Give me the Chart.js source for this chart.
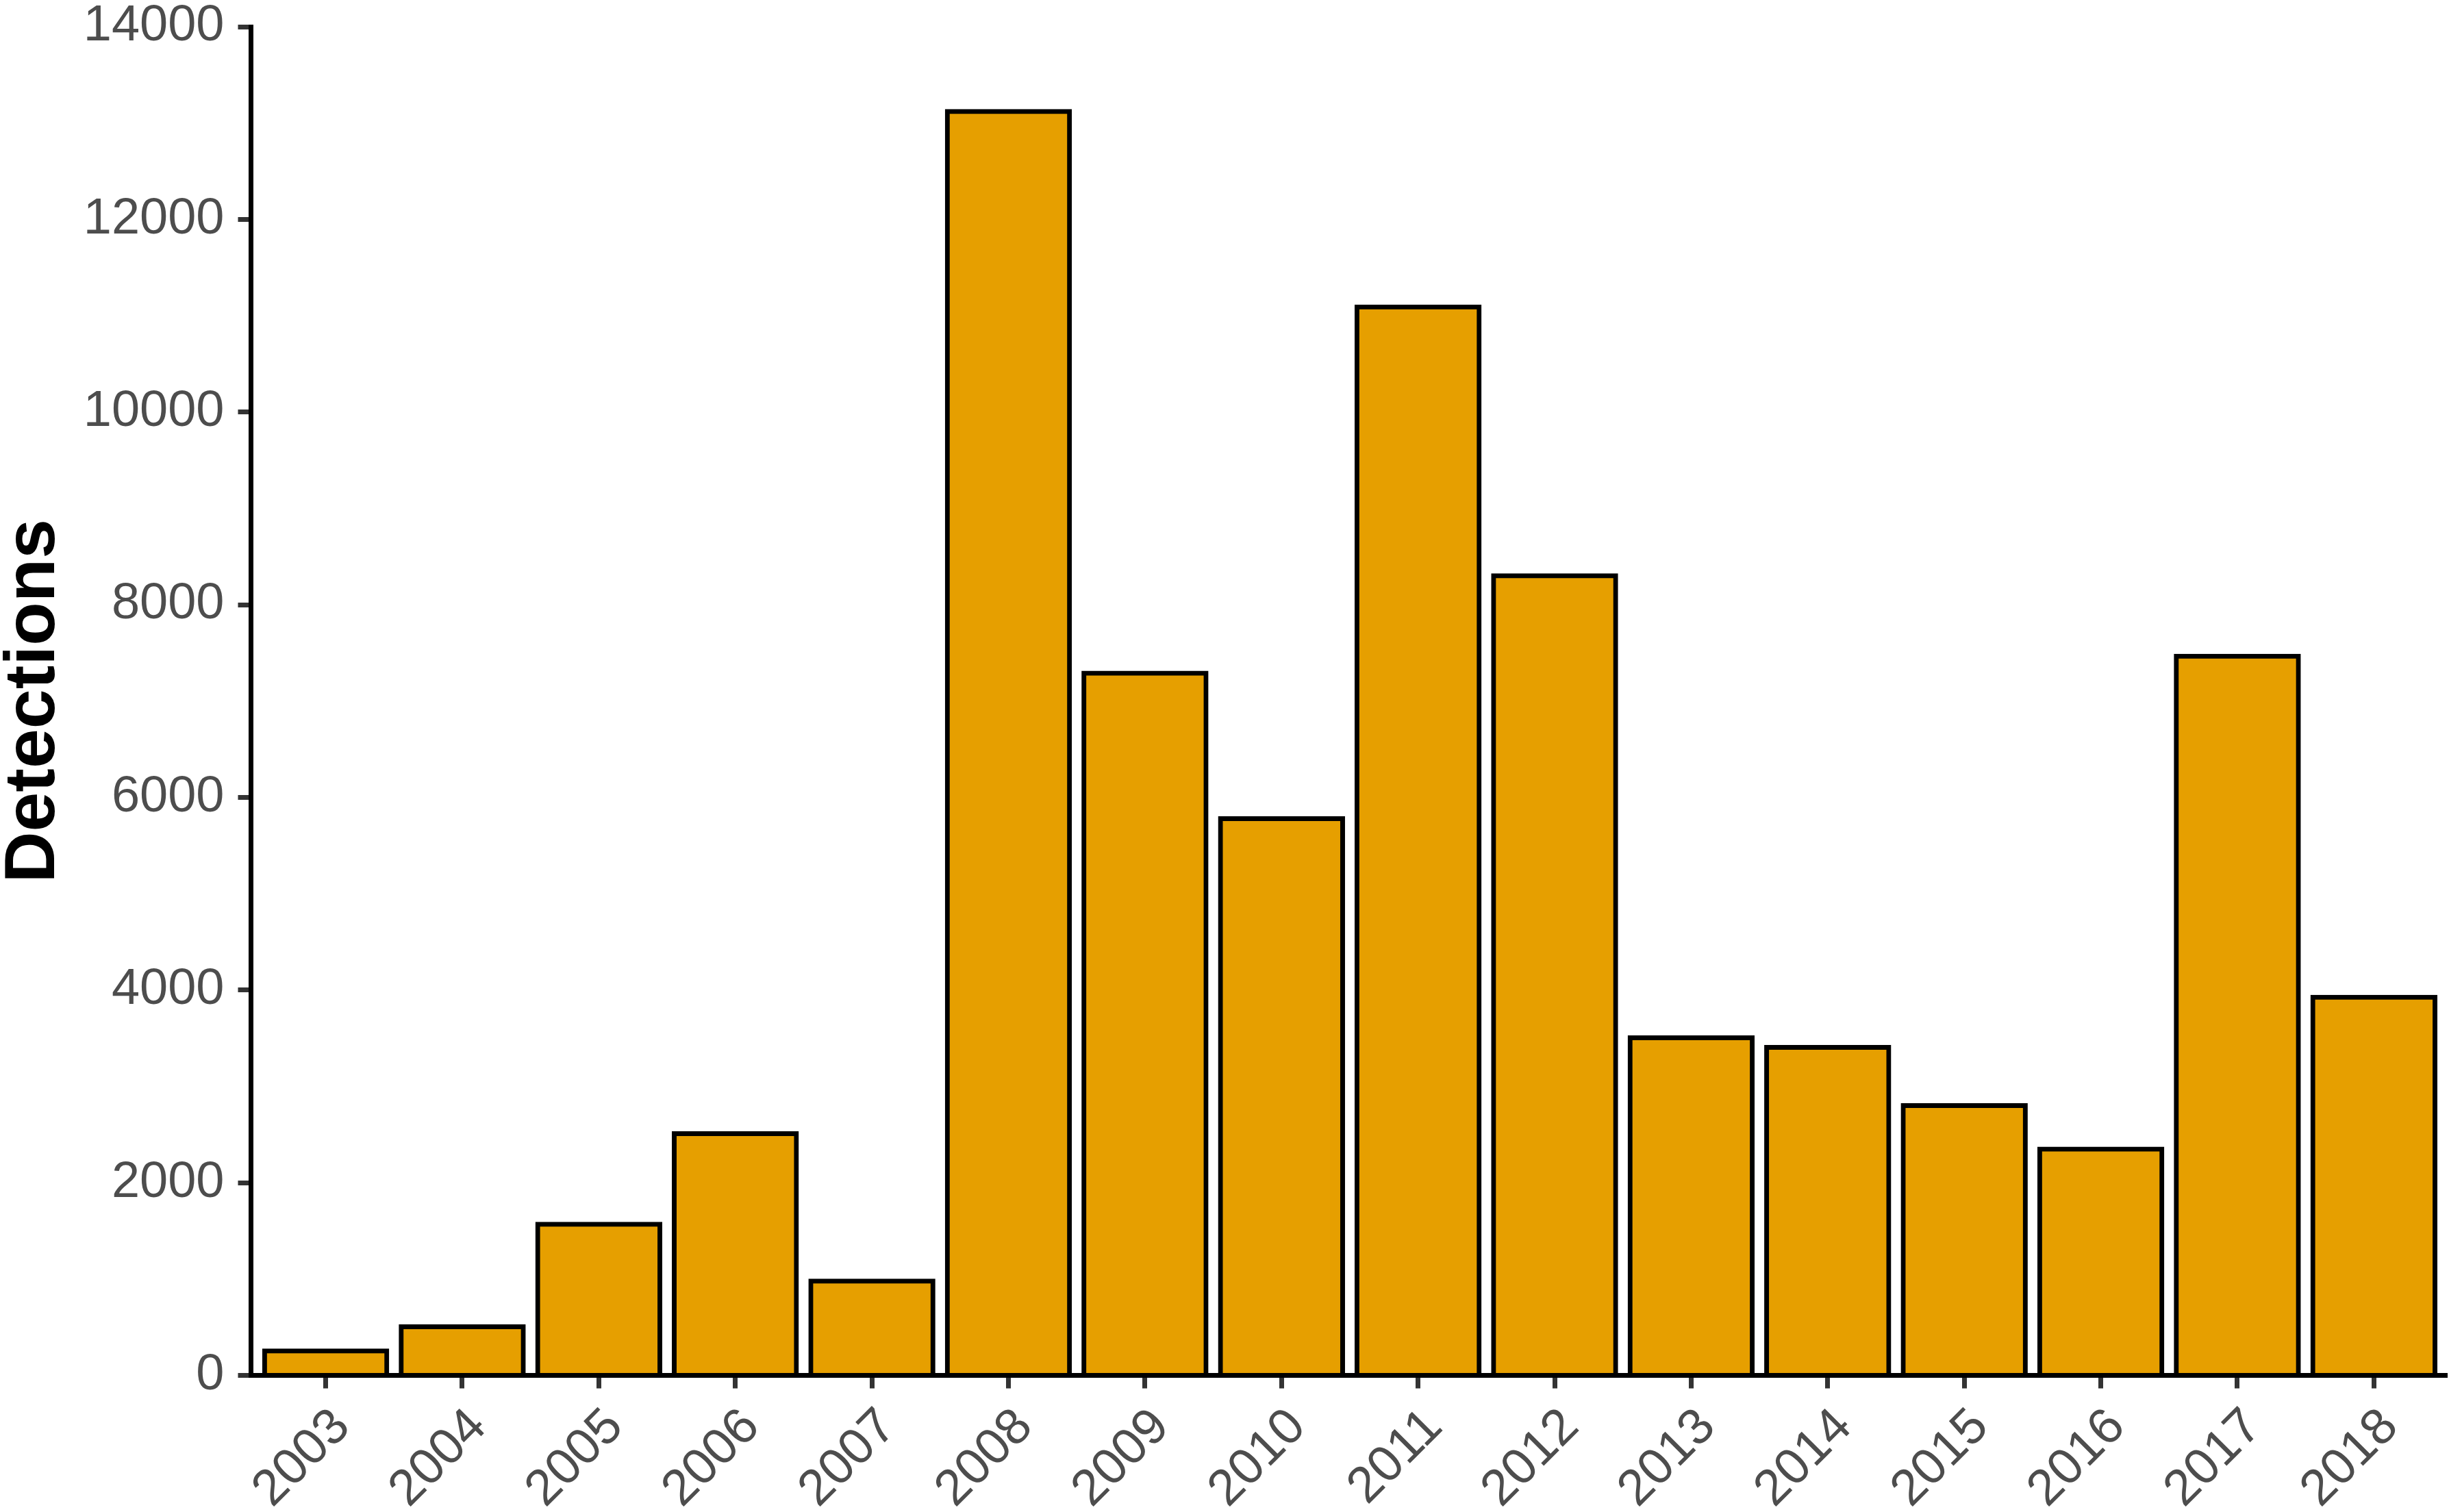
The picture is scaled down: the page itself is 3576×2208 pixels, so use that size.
<!DOCTYPE html>
<html>
<head>
<meta charset="utf-8">
<script src="https://cdn.jsdelivr.net/npm/chart.js@4.4.1/dist/chart.umd.min.js"></script>
<style>
  html, body { margin: 0; padding: 0; background: #fff; }
  #wrap { width: 3576px; height: 2208px; position: relative; }
</style>
</head>
<body>
<div id="wrap"><canvas id="canvas"></canvas></div>
<script>
// detections per year
var years = [2003, 2004, 2005, 2006, 2007, 2008, 2009, 2010, 2011, 2012, 2013, 2014, 2015, 2016, 2017, 2018];
var detections = [255, 505, 1570, 2510, 980, 13120, 7290, 5780, 11090, 8300, 3505, 3405, 2800, 2350, 7465, 3925];
var yTicks = [0, 2000, 4000, 6000, 8000, 10000, 12000, 14000];

var FONT = '"Liberation Sans", Arial, sans-serif';
var TICK_GREY = '#4D4D4D';

var points = years.map(function(y, i) { return { x: y, y: detections[i] }; });

var ctx = document.getElementById("canvas").getContext("2d");

var config = {
	type : 'bar',
	data : {
		datasets : [{
			label : 'Detections',
			data : points,
			backgroundColor : '#E69F00',
			borderColor : '#000000',
			borderWidth : 7,
			borderSkipped : 'start',
			inflateAmount : 3.5, // centre the outline on the bar edge
			barPercentage : 1,
			categoryPercentage : 0.895
		}]
	},
	options : {
		responsive : true,
		maintainAspectRatio : false,
		devicePixelRatio : 1,
		animation : false,
		layout : {
			padding : { top : 39, right : 6, bottom : 0, left : 0 }
		},
		plugins : {
			legend : { display : false },
			tooltip : { enabled : false }
		},
		scales : {
			x : {
				type : 'linear',
				z : 1,
				offset : false,
				min : 2002.453,
				max : 2018.52,
				afterBuildTicks : function(scale) {
					scale.ticks = years.map(function(v) { return { value : v }; });
				},
				afterFit : function(scale) {
					scale.height = 199.5;
					scale.paddingLeft = 0;
					scale.paddingRight = 0;
				},
				grid : {
					offset : false,
					drawOnChartArea : false,
					drawTicks : true,
					tickLength : 19,
					color : '#333333',
					lineWidth : 7
				},
				border : { display : true, color : '#000000', width : 7 },
				ticks : {
					autoSkip : false,
					maxRotation : 45,
					minRotation : 45,
					padding : 13,
					labelOffset : 24,
					color : TICK_GREY,
					font : { family : FONT, size : 74 },
					callback : function(value) { return String(value); }
				}
			},
			y : {
				min : 0,
				max : 14000,
				afterBuildTicks : function(scale) {
					scale.ticks = yTicks.map(function(v) { return { value : v }; });
				},
				afterFit : function(scale) {
					scale.width = 366.5;
					scale.paddingTop = 0;
					scale.paddingBottom = 0;
				},
				grid : {
					drawOnChartArea : false,
					drawTicks : true,
					tickLength : 19,
					color : '#333333',
					lineWidth : 7
				},
				border : { display : true, color : '#000000', width : 7 },
				ticks : {
					padding : 20,
					color : TICK_GREY,
					font : { family : FONT, size : 74, lineHeight : 1 },
					callback : function(value) { return String(value); }
				},
				title : {
					display : true,
					text : 'Detections',
					color : '#000000',
					padding : 0,
					font : { family : FONT, size : 104, weight : 'bold', lineHeight : 0.97 }
				}
			}
		}
	}
};

window.myBar = new Chart(ctx, config);
</script>
</body>
</html>
